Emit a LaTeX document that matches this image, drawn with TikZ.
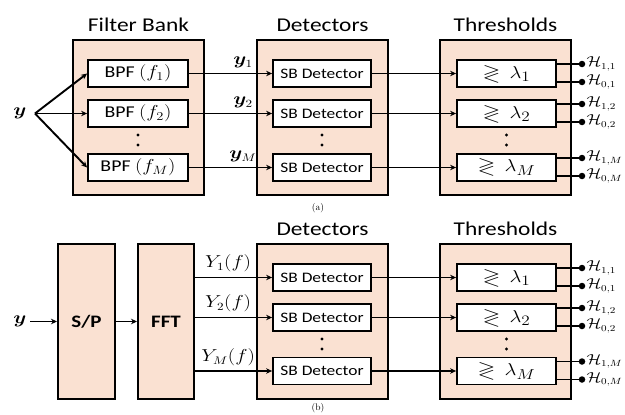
\documentclass[tikz,border=0pt]{standalone}
\usepackage{fontspec}
\usepackage{amssymb}
\usepackage{bm}
\setsansfont{Carlito}
\usetikzlibrary{arrows.meta,calc}
\definecolor{peach}{RGB}{250,225,210}
% slightly widened lettering
\newcommand{\stretchx}[1]{\scalebox{1.2}[1]{#1}}

\begin{document}
\begin{tikzpicture}[x=1pt,y=-1pt,
  group/.style={draw=black, line width=2pt, fill=peach, inner sep=0pt,
                minimum width=131pt, minimum height=155pt},
  unit/.style={draw=black, line width=1.8pt, fill=white, inner sep=0pt,
               minimum height=27pt},
  title/.style={font=\sffamily\fontsize{19.5}{21}\selectfont},
  bpftext/.style={font=\sffamily\fontsize{16.5}{18}\selectfont},
  sbtext/.style={font=\sffamily\fontsize{14.5}{16}\selectfont},
  thrtext/.style={font=\fontsize{19}{20}\selectfont},
  sig/.style={font=\fontsize{16}{17}\selectfont},
  link/.style={line width=1.9pt, -{Stealth[length=6pt,width=5.5pt]}},
  wire/.style={line width=1.9pt},
  tap/.style={circle, fill=black, inner sep=0pt, minimum size=6.5pt},
  hyp/.style={anchor=west, inner sep=1pt, font=\fontsize{13.5}{15}\selectfont},
  captext/.style={font=\rmfamily\fontsize{9.5}{10}\selectfont}]

\fill[white] (0,0) rectangle (625,415);
\useasboundingbox (0,0) rectangle (625,415);

% ---------------- (a) filter-bank receiver ----------------
\node[group] (fb) at (138.5,117.5) {};
\node[group] (da) at (322.5,117.5) {};
\node[group] (ta) at (505.5,117.5) {};
\node[title] (fbt) at (138.5,25) {\stretchx{Filter Bank}};
\node[title] (dat) at (322.5,25) {\stretchx{Detectors}};
\node[title] (tat) at (505.5,25) {\stretchx{Thresholds}};

\node[sig] (ya) at (20,113.5) {\stretchx{$\bm{y}$}};
\coordinate (split) at (35,113.5);

\foreach \k/\yy in {1/73.5,2/113.5,M/167.5}{
  \node[unit, minimum width=100pt, bpftext] (bpf\k) at (138,\yy) {\stretchx{BPF $(f_{\k})$}};
  \node[unit, minimum width=98pt, sbtext] (sba\k) at (322,\yy) {\stretchx{SB Detector}};
  \node[unit, minimum width=99pt, thrtext] (tha\k) at (506.5,\yy) {\stretchx{$\gtrless\,\lambda_{\k}$}};
  \draw[link] (split) -- (bpf\k.west);
  \draw[link] (bpf\k.east) -- node[pos=0.65, above=1pt, sig] {\stretchx{$\bm{y}_{\k}$}} (sba\k.west);
  \draw[link] (sba\k.east) -- (tha\k.west);
  \node[tap] (pa1\k) at (582,{\yy-9.5}) {};
  \node[tap] (pa0\k) at (582,{\yy+8.5}) {};
  \draw[wire] (tha\k.east |- pa1\k) -- (pa1\k);
  \draw[wire] (tha\k.east |- pa0\k) -- (pa0\k);
  \node[hyp] (ha1\k) at (pa1\k.east) {\stretchx{$\mathcal{H}_{1,\k}$}};
  \node[hyp] (ha0\k) at (pa0\k.east) {\stretchx{$\mathcal{H}_{0,\k}$}};
}

% vertical ellipses
\foreach \xx in {138,322,506.5}{
  \fill (\xx,135) circle (1.6);
  \fill (\xx,145) circle (1.6);
}

\node[captext] (capa) at (318,208) {(a)};

% ---------------- (b) FFT-based receiver ----------------
\node[group, minimum width=57pt, font=\sffamily\bfseries\fontsize{17.5}{19}\selectfont] (sp) at (86.5,321.5) {\stretchx{S/P}};
\node[group, minimum width=56pt, font=\sffamily\bfseries\fontsize{17.5}{19}\selectfont] (fft) at (166,321.5) {\stretchx{FFT}};
\node[group] (db) at (322.5,321.5) {};
\node[group] (tb) at (505.5,321.5) {};
\node[title] (dbt) at (322.5,229) {\stretchx{Detectors}};
\node[title] (tbt) at (505.5,229) {\stretchx{Thresholds}};

\node[sig] (yb) at (20,321.5) {\stretchx{$\bm{y}$}};
\draw[link] (yb) -- (sp);
\draw[link] (sp) -- (fft);

\foreach \k/\yy in {1/277.5,2/317.5,M/371}{
  \node[unit, minimum width=98pt, sbtext] (sbb\k) at (322,\yy) {\stretchx{SB Detector}};
  \node[unit, minimum width=99pt, thrtext] (thb\k) at (506.5,\yy) {\stretchx{$\gtrless\,\lambda_{\k}$}};
  \draw[link] (fft.east |- sbb\k.west) -- node[pos=0.43, above=1pt, sig] {\stretchx{$Y_{\k}(f)$}} (sbb\k.west);
  \draw[link] (sbb\k.east) -- (thb\k.west);
  \node[tap] (pb1\k) at (582,{\yy-9.5}) {};
  \node[tap] (pb0\k) at (582,{\yy+8.5}) {};
  \draw[wire] (thb\k.east |- pb1\k) -- (pb1\k);
  \draw[wire] (thb\k.east |- pb0\k) -- (pb0\k);
  \node[hyp] (hb1\k) at (pb1\k.east) {\stretchx{$\mathcal{H}_{1,\k}$}};
  \node[hyp] (hb0\k) at (pb0\k.east) {\stretchx{$\mathcal{H}_{0,\k}$}};
}

\foreach \xx in {322,506.5}{
  \fill (\xx,339) circle (1.6);
  \fill (\xx,349) circle (1.6);
}

\node[captext] (capb) at (318,408) {(b)};
\end{tikzpicture}
\end{document}
